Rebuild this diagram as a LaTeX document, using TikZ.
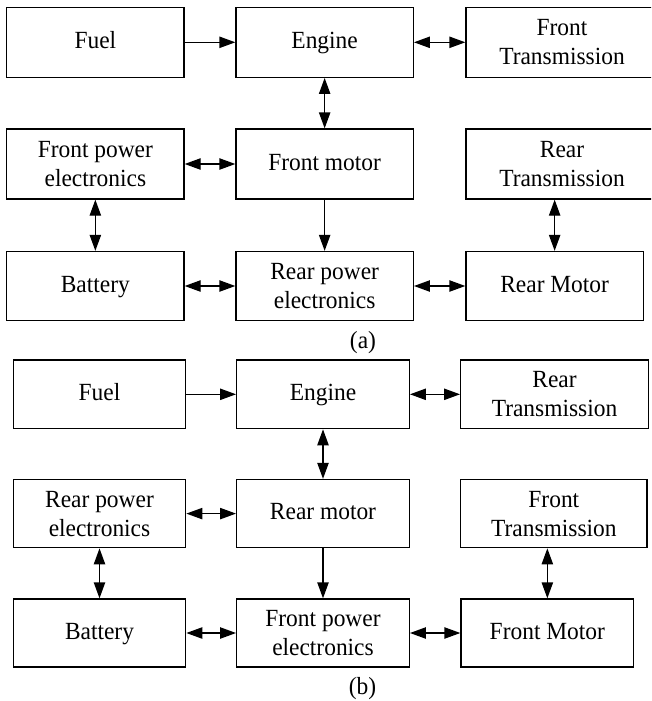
\documentclass[tikz,border=0pt]{standalone}
\usepackage{fontspec}
\setmainfont[FakeStretch=0.95]{Liberation Serif}
\usetikzlibrary{arrows.meta}
\begin{document}
\begin{tikzpicture}[x=0.75pt,y=-0.75pt,
  bx/.style 2 args={draw, line width=1pt, inner sep=0pt, align=center,
    minimum width=#1*0.75pt, minimum height=#2*0.75pt},
  one/.style={text height=13pt, text depth=3.7pt},
  txt/.style={font={\fontsize{18.5pt}{21.75pt}\selectfont}},
  every node/.append style={txt},
  conn/.style={line width=1pt, -{Triangle[length=12pt,width=8.5pt]}},
  biconn/.style={line width=1pt, {Triangle[length=12pt,width=8.5pt]}-{Triangle[length=12pt,width=8.5pt]}},
  lbl/.style={inner sep=0pt}]
\useasboundingbox (0,0) rectangle (651,701);
\clip (0,0) rectangle (651,701);
% ---------- (a) ----------
\node[bx={177.3}{70}, one] (aFuel) at (95.35,42.3) {Fuel};
\node[bx={177.3}{70}, one] (aEng) at (324.65,42.3) {Engine};
\node[bx={192}{70}] (aFT) at (562,42.3) {Front\\Transmission};
\node[bx={177.3}{70}] (aFPE) at (95.35,164) {Front power\\electronics};
\node[bx={177.3}{70}, one] (aFM) at (324.65,164) {Front motor};
\node[bx={192}{70}] (aRT) at (562,164) {Rear\\Transmission};
\node[bx={177.3}{69}, one] (aBat) at (95.35,286) {Battery};
\node[bx={177.3}{69}] (aRPE) at (324.65,286) {Rear power\\electronics};
\node[bx={177.3}{69}, one] (aRM) at (554.65,286) {Rear Motor};
\node[lbl] (la) at (363,343) {(a)};
\draw[conn] (aFuel) -- (aEng);
\draw[biconn] (aEng) -- (aFT);
\draw[biconn] (aEng) -- (aFM);
\draw[biconn] (aFPE) -- (aFM);
\draw[biconn] (aFPE) -- (aBat);
\draw[conn] (aFM) -- (aRPE);
\draw[biconn] (aBat) -- (aRPE);
\draw[biconn] (aRPE) -- (aRM);
\draw[biconn] (aRM.north) -- (aRM.north |- aRT.south);
% ---------- (b) ----------
\node[bx={172.4}{68.7}, one] (bFuel) at (99.5,394.3) {Fuel};
\node[bx={172.6}{68.7}, one] (bEng) at (323,394.3) {Engine};
\node[bx={187.6}{68.7}] (bRT) at (554.5,394.3) {Rear\\Transmission};
\node[bx={172.4}{68.2}] (bRPE) at (99.5,513.6) {Rear power\\electronics};
\node[bx={172.6}{68.2}, one] (bRM) at (323,513.6) {Rear motor};
\node[bx={186.3}{68.2}] (bFT) at (553.85,513.6) {Front\\Transmission};
\node[bx={172.4}{68}, one] (bBat) at (99.5,633) {Battery};
\node[bx={172.6}{68}] (bFPE) at (323,633) {Front power\\electronics};
\node[bx={172.7}{68}, one] (bFM) at (547.35,633) {Front Motor};
\node[lbl] (lb) at (362.5,689) {(b)};
\draw[conn] (bFuel) -- (bEng);
\draw[biconn] (bEng) -- (bRT);
\draw[biconn] (bEng) -- (bRM);
\draw[biconn] (bRPE) -- (bRM);
\draw[biconn] (bRPE) -- (bBat);
\draw[conn] (bRM) -- (bFPE);
\draw[biconn] (bBat) -- (bFPE);
\draw[biconn] (bFPE) -- (bFM);
\draw[biconn] (bFM.north) -- (bFM.north |- bFT.south);
\end{tikzpicture}
\end{document}
